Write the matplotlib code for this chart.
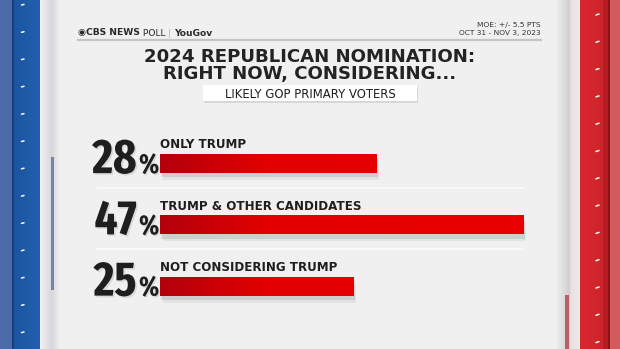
import numpy as np
import matplotlib
matplotlib.use("Agg")
import matplotlib.pyplot as plt
from matplotlib import font_manager
from matplotlib.font_manager import FontProperties
from matplotlib.colors import LinearSegmentedColormap
import matplotlib.patheffects as pe
from matplotlib.patches import Rectangle

# ---------------- data ----------------
categories = ["ONLY TRUMP", "TRUMP & OTHER CANDIDATES", "NOT CONSIDERING TRUMP"]
values = [28, 47, 25]
title_lines = ["2024 REPUBLICAN NOMINATION:", "RIGHT NOW, CONSIDERING..."]
subtitle = "LIKELY GOP PRIMARY VOTERS"
moe_lines = ["MOE: +/- 5.5 PTS", "OCT 31 - NOV 3, 2023"]

def _stretch_val(s):
    if isinstance(s, (int, float)):
        return s
    table = {"ultra-condensed": 100, "extra-condensed": 200, "condensed": 300,
             "semi-condensed": 400, "normal": 500}
    return table.get(str(s), 500)

def _weight_val(w):
    if isinstance(w, (int, float)):
        return w
    return {"bold": 700, "heavy": 800, "black": 900, "extra bold": 800, "semibold": 600,
            "demibold": 600}.get(str(w), 400)

cands = []
for f in font_manager.fontManager.ttflist:
    fn = f.fname.lower()
    nm = f.name.lower()
    if "italic" in fn or "oblique" in fn or f.style != "normal":
        continue
    st = _stretch_val(f.stretch)
    if "extracondensed" in fn or "extra-condensed" in fn or "extracondensed" in nm.replace(" ", ""):
        st = min(st, 200)
    elif "semicondensed" in fn or "semicondensed" in nm.replace(" ", ""):
        st = min(st, 400)
    elif "condensed" in fn or "condensed" in nm or "narrow" in nm:
        st = min(st, 300)
    if st <= 300 and _weight_val(f.weight) >= 700:
        cands.append((st, abs(_weight_val(f.weight) - 700), f.name, f.fname))
num_fp = None
if cands:
    cands.sort()
    num_fp = FontProperties(fname=cands[0][3])
narrow_found = num_fp is not None
if num_fp is None:
    num_fp = FontProperties(family="DejaVu Sans", weight="bold")

W, H = 620, 349
fig = plt.figure(figsize=(W / 100, H / 100), dpi=100)
fig.patch.set_facecolor("#f0f0f0")

bg = fig.add_axes([0, 0, 1, 1])
bg.set_xlim(0, W)
bg.set_ylim(H, 0)
bg.axis("off")

def rect(x0, x1, y0, y1, color, z=1, **kw):
    bg.add_patch(Rectangle((x0, y0), x1 - x0, y1 - y0, color=color, zorder=z, lw=0, **kw))

def hgrad(x0, x1, y0, y1, c0, c1, z=1):
    cmg = LinearSegmentedColormap.from_list("g", [c0, c1])
    bg.imshow(np.linspace(0, 1, 64).reshape(1, -1), extent=(x0, x1, y1, y0), cmap=cmg,
              aspect="auto", zorder=z, interpolation="bilinear")

# left blue frame
rect(0, 12, 0, H, "#4c69a8")
rect(12, 14, 0, H, "#173f7e")
hgrad(14, 40, 0, H, "#1b55a0", "#2160b0")
hgrad(40, 52, 0, H, "#f2f2f6", "#d6d6dc")
hgrad(52, 60, 0, H, "#d8d8dc", "#f0f0f0")
rect(50.5, 54, 157, 290, "#7084ad", z=2)
# right red frame
hgrad(556, 570, 0, H, "#f0f0f0", "#cfcdd0")
hgrad(570, 580, 0, H, "#e4e0e2", "#f1eaea")
hgrad(580, 603, 0, H, "#d8282f", "#cf242b")
rect(603, 608, 0, H, "#b51c23")
rect(608, 610, 0, H, "#8c1218")
rect(610, W, 0, H, "#d35a5d")
rect(565, 569, 295, H, "#b9606a", z=2)
for yy in np.arange(5, H, 27.3):
    bg.plot([21.5, 24], [yy, yy - 0.6], color="white", lw=1.1, solid_capstyle="round", zorder=3)
for yy in np.arange(15, H, 27.3):
    bg.plot([596, 599], [yy, yy - 1], color="white", lw=1.1, solid_capstyle="round", zorder=3)

# header
bg.plot([78, 541], [40, 40], color="#c4c4c4", lw=1.6, zorder=3)
t1 = bg.text(78, 35.5, "\u25c9CBS NEWS", fontsize=6.6, fontweight="bold", color="#2a2a2a",
             ha="left", va="baseline", family="DejaVu Sans", zorder=4)
t2 = bg.annotate(" POLL", xy=(1, 0), xycoords=t1, fontsize=6.6, color="#2a2a2a",
                 ha="left", va="bottom", family="DejaVu Sans", zorder=4)
t3 = bg.annotate(" | ", xy=(1, 0), xycoords=t2, fontsize=6.6, color="#b0b0b0",
                 ha="left", va="bottom", family="DejaVu Sans", zorder=4)
bg.annotate("YouGov", xy=(1, 0), xycoords=t3, fontsize=6.6, fontweight="bold", color="#2a2a2a",
            ha="left", va="bottom", family="DejaVu Sans", zorder=4)
bg.text(541, 26.5, moe_lines[0], fontsize=5.4, color="#333333", ha="right", va="baseline", zorder=4)
bg.text(541, 34.5, moe_lines[1], fontsize=5.4, color="#333333", ha="right", va="baseline", zorder=4)

# title
bg.text(310, 61.5, title_lines[0], fontsize=13.1, fontweight="heavy", color="#232323",
        ha="center", va="baseline", zorder=4)
bg.text(310, 79, title_lines[1], fontsize=13.1, fontweight="heavy", color="#232323",
        ha="center", va="baseline", zorder=4)
box = Rectangle((203, 85), 214, 16, facecolor="white", lw=0, zorder=3)
box.set_path_effects([pe.SimplePatchShadow(offset=(1, -1.5), alpha=0.15), pe.Normal()])
bg.add_patch(box)
bg.text(310, 98, subtitle, fontsize=8.4, color="#1e1e1e", ha="center", va="baseline", zorder=4)

# ---------------- bars ----------------
px_per_unit = 7.73
left_px, top_px = 160, 133
ax_w_px = 50 * px_per_unit
slot = 61.25
ax_h_px = 3 * slot
ax = fig.add_axes([left_px / W, (H - top_px - ax_h_px) / H, ax_w_px / W, ax_h_px / H])
ax.set_xlim(0, 50)
ax.set_ylim(len(values) - 0.5, -0.5)
ax.axis("off")
ax.patch.set_alpha(0)

bar_h = 19 / slot
ypos = np.arange(len(values))
bars = ax.barh(ypos, values, height=bar_h, color="#e80000", lw=0, zorder=2)
cmb = LinearSegmentedColormap.from_list("bar", [(0, "#b3000c"), (0.27, "#e20000"), (1, "#ea0000")])
grad = np.linspace(0, 1, 256).reshape(1, -1)
for b in bars:
    b.set_path_effects([pe.SimplePatchShadow(offset=(1, -3), shadow_rgbFace="#000000", alpha=0.09),
                        pe.SimplePatchShadow(offset=(2, -5), shadow_rgbFace="#000000", alpha=0.05),
                        pe.Normal()])
    y0, y1 = b.get_y(), b.get_y() + b.get_height()
    im = ax.imshow(grad, extent=(0, 50, y1, y0), cmap=cmb, aspect="auto", zorder=3,
                   interpolation="bilinear")
    im.set_clip_path(b)

num_size = 35 if narrow_found else 27
pct_size = 20 if narrow_found else 15
x_num = -23 / px_per_unit
for i, (cat, v) in enumerate(zip(categories, values)):
    base = i + bar_h / 2
    fp = num_fp.copy()
    fp.set_size(num_size)
    t = ax.text(x_num - 0.05, base, f"{v}", fontproperties=fp,
                color="#1e1e1e", ha="right", va="baseline", clip_on=False, zorder=4)
    t.set_path_effects([pe.SimplePatchShadow(offset=(1.2, -1.2), alpha=0.1), pe.Normal()])
    fp2 = num_fp.copy()
    fp2.set_size(pct_size)
    t2 = ax.text(x_num + 0.25, base, "%", fontproperties=fp2,
                 color="#1e1e1e", ha="left", va="baseline", clip_on=False, zorder=4)
    t2.set_path_effects([pe.SimplePatchShadow(offset=(1, -1), alpha=0.1), pe.Normal()])
    ax.text(0, i - (163.5 - 148.3) / slot, cat, fontsize=8.6, fontweight="bold",
            color="#1e1e1e", ha="left", va="baseline", clip_on=False, zorder=4)
    if i < len(values) - 1:
        ax.plot([-63 / px_per_unit, max(values)], [i + 0.39, i + 0.39], color="#fbfbfb",
                lw=1.3, clip_on=False, zorder=1)

fig.savefig("out.png", dpi=100, facecolor=fig.get_facecolor())
